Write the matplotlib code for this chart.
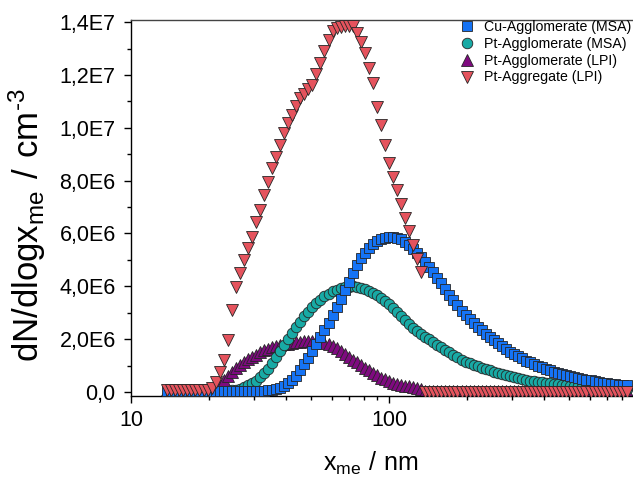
import numpy as np
import matplotlib
matplotlib.use('Agg')
import matplotlib.pyplot as plt
from matplotlib.ticker import FixedLocator, MultipleLocator, LogLocator, NullFormatter

plt.rcParams['font.family'] = ['Liberation Sans', 'DejaVu Sans']
plt.rcParams['mathtext.default'] = 'regular'

# mobility diameter grid (nm), 64 channels per decade
size_nm = [13.82, 14.33, 14.86, 15.40, 15.96, 16.55, 17.15, 17.78, 18.43, 19.11,
           19.81, 20.54, 21.29, 22.07, 22.88, 23.71, 24.58, 25.48, 26.42, 27.38,
           28.39, 29.43, 30.51, 31.62, 32.78, 33.98, 35.23, 36.52, 37.86, 39.24,
           40.68, 42.17, 43.71, 45.32, 46.98, 48.70, 50.48, 52.33, 54.25, 56.23,
           58.29, 60.43, 62.64, 64.94, 67.32, 69.78, 72.34, 74.99, 77.74, 80.58,
           83.54, 86.60, 89.77, 93.06, 96.47, 100.0, 103.7, 107.5, 111.4, 115.5,
           119.7, 124.1, 128.6, 133.4, 138.2, 143.3, 148.6, 154.0, 159.6, 165.5,
           171.5, 177.8, 184.3, 191.1, 198.1, 205.4, 212.9, 220.7, 228.8, 237.1,
           245.8, 254.8, 264.2, 273.8, 283.9, 294.3, 305.1, 316.2, 327.8, 339.8,
           352.3, 365.2, 378.6, 392.4, 406.8, 421.7, 437.1, 453.2, 469.8, 487.0,
           504.8, 523.3, 542.5, 562.3, 582.9, 604.3, 626.4, 649.4, 673.2, 697.8,
           723.4, 749.9, 777.4, 805.8, 835.4]

# dN/dlogx in 1E6 cm^-3
cu_msa = [0.05, 0.05, 0.05, 0.05, 0.05, 0.05, 0.05, 0.05, 0.05, 0.05,
          0.05, 0.05, 0.05, 0.05, 0.05, 0.05, 0.05, 0.05, 0.05, 0.05,
          0.03, 0.03, 0.03, 0.04, 0.05, 0.06, 0.08, 0.11, 0.16, 0.23,
          0.33, 0.46, 0.62, 0.82, 1.05, 1.30, 1.56, 1.82, 2.08, 2.35,
          2.63, 2.92, 3.22, 3.53, 3.85, 4.18, 4.50, 4.80, 5.06, 5.28,
          5.46, 5.60, 5.71, 5.79, 5.84, 5.87, 5.87, 5.84, 5.78, 5.69,
          5.57, 5.43, 5.27, 5.10, 4.92, 4.73, 4.53, 4.32, 4.11, 3.90,
          3.69, 3.48, 3.28, 3.08, 2.90, 2.75, 2.60, 2.46, 2.33, 2.20,
          2.08, 1.96, 1.84, 1.73, 1.62, 1.52, 1.43, 1.35, 1.27, 1.19,
          1.12, 1.05, 0.99, 0.93, 0.87, 0.82, 0.77, 0.72, 0.68, 0.64,
          0.60, 0.56, 0.53, 0.50, 0.47, 0.44, 0.41, 0.38, 0.36, 0.34,
          0.32, 0.30, 0.28, 0.26, 0.25]

# Pt-Agglomerate (MSA) starts at 22.88 nm
pt_msa = [0.02, 0.03, 0.06, 0.09, 0.13, 0.18,
          0.25, 0.33, 0.43, 0.56, 0.71, 0.89, 1.09, 1.31, 1.54, 1.77,
          2.00, 2.23, 2.45, 2.66, 2.86, 3.04, 3.21, 3.36, 3.50, 3.62,
          3.72, 3.81, 3.88, 3.93, 3.97, 3.99, 4.00, 3.98, 3.94, 3.89,
          3.83, 3.76, 3.68, 3.56, 3.44, 3.32, 3.18, 3.03, 2.88, 2.73,
          2.58, 2.44, 2.31, 2.20, 2.10, 1.99, 1.89, 1.79, 1.69, 1.60,
          1.50, 1.41, 1.32, 1.23, 1.15, 1.09, 1.03, 0.97, 0.92, 0.87,
          0.82, 0.77, 0.73, 0.68, 0.64, 0.60, 0.56, 0.52, 0.49, 0.46,
          0.43, 0.41, 0.39, 0.37, 0.35, 0.33, 0.31, 0.29, 0.27, 0.26,
          0.24, 0.22, 0.21, 0.19, 0.18, 0.17, 0.16, 0.15, 0.14, 0.13,
          0.12, 0.12, 0.11, 0.11, 0.10]

pt_lpi = [0.06, 0.06, 0.06, 0.06, 0.06, 0.06, 0.06, 0.06, 0.06, 0.06,
          0.06, 0.06, 0.18, 0.30, 0.45, 0.62, 0.76, 0.90, 1.03, 1.15,
          1.25, 1.34, 1.42, 1.50, 1.58, 1.64, 1.69, 1.73, 1.77, 1.80,
          1.83, 1.85, 1.88, 1.90, 1.92, 1.93, 1.94, 1.93, 1.91, 1.87,
          1.82, 1.74, 1.65, 1.55, 1.45, 1.34, 1.23, 1.12, 1.02, 0.92,
          0.82, 0.72, 0.63, 0.55, 0.48, 0.41, 0.35, 0.30, 0.27, 0.24,
          0.22, 0.19, 0.15, 0.10, 0.05, 0.05, 0.05, 0.05, 0.05, 0.05,
          0.05, 0.05, 0.05, 0.05, 0.05, 0.05, 0.05, 0.05, 0.05, 0.05,
          0.05, 0.05, 0.05, 0.05, 0.05, 0.05, 0.05, 0.05, 0.05, 0.05,
          0.05, 0.05, 0.05, 0.05, 0.05, 0.05, 0.05, 0.05, 0.05, 0.05,
          0.05, 0.05, 0.05, 0.05, 0.05, 0.05, 0.05, 0.05, 0.05, 0.05,
          0.05, 0.05, 0.05, 0.05, 0.05]

pt_agg = [0.08, 0.08, 0.08, 0.08, 0.08, 0.08, 0.08, 0.08, 0.08, 0.08,
          0.08, 0.15, 0.38, 0.76, 1.21, 1.97, 3.10, 3.97, 4.50, 4.99,
          5.44, 5.86, 6.43, 6.88, 7.45, 7.94, 8.47, 8.88, 9.34, 9.79,
          10.17, 10.47, 10.81, 11.12, 11.27, 11.46, 11.61, 12.02, 12.44, 12.89,
          13.31, 13.65, 13.76, 13.80, 13.84, 13.84, 13.84, 13.57, 13.23, 12.82,
          12.25, 11.68, 10.78, 10.09, 9.34, 8.66, 8.13, 7.64, 7.11, 6.58,
          6.09, 5.56, 5.03, 4.54, 0, 0, 0, 0, 0, 0,
          0, 0, 0, 0, 0, 0, 0, 0, 0, 0,
          0, 0, 0, 0, 0, 0, 0, 0, 0, 0,
          0, 0, 0, 0, 0, 0, 0, 0, 0, 0,
          0, 0, 0, 0, 0, 0, 0, 0, 0, 0,
          0, 0, 0, 0, 0]

labels = ['Cu-Agglomerate (MSA)', 'Pt-Agglomerate (MSA)',
          'Pt-Agglomerate (LPI)', 'Pt-Aggregate (LPI)']
y_ticks = [0, 2e6, 4e6, 6e6, 8e6, 1e7, 1.2e7, 1.4e7]
y_tick_labels = ['0,0', '2,0E6', '4,0E6', '6,0E6', '8,0E6', '1,0E7', '1,2E7', '1,4E7']
x_ticks = [10, 100]
x_tick_labels = ['10', '100']

x = np.array(size_nm)
x_msa = x[len(x) - len(pt_msa):]

fig = plt.figure(figsize=(6.33, 4.79), dpi=100)
ax = fig.add_axes([131/633, 1 - 396/479, 502/633, 376/479])

ec = '#262626'
h_lpi, = ax.plot(x, np.array(pt_lpi)*1e6, ls='none', marker='^', ms=8.8,
                 mfc='#7f0a80', mec=ec, mew=0.6, zorder=2)
h_msa, = ax.plot(x_msa, np.array(pt_msa)*1e6, ls='none', marker='o', ms=7.6,
                 mfc='#18aaa5', mec=ec, mew=0.6, zorder=3)
h_cu, = ax.plot(x, np.array(cu_msa)*1e6, ls='none', marker='s', ms=7.2,
                mfc='#1573f5', mec=ec, mew=0.6, zorder=4)
h_agg, = ax.plot(x, np.array(pt_agg)*1e6, ls='none', marker='v', ms=8.8,
                 mfc='#e5535d', mec=ec, mew=0.6, zorder=5)

ax.set_xscale('log')
ax.set_xlim(10, 883)
ax.set_ylim(-1.5e5, 1.408e7)

ax.xaxis.set_major_locator(FixedLocator(x_ticks))
ax.set_xticklabels(x_tick_labels)
ax.xaxis.set_minor_locator(LogLocator(base=10, subs=np.arange(2, 10)))
ax.xaxis.set_minor_formatter(NullFormatter())
ax.yaxis.set_major_locator(FixedLocator(y_ticks))
ax.set_yticklabels(y_tick_labels)
ax.yaxis.set_minor_locator(MultipleLocator(1e6))

ax.tick_params(which='major', direction='out', length=5, width=1, labelsize=15.5, colors='black')
ax.tick_params(axis='y', which='major', pad=6)
ax.tick_params(axis='x', which='major', pad=5)
ax.tick_params(which='minor', direction='out', length=3, width=1)
ax.tick_params(which='both', top=False, right=False)

ax.spines['right'].set_visible(False)
ax.spines['top'].set_color('#444444')
for s in ['left', 'bottom', 'top']:
    ax.spines[s].set_linewidth(1.0)

ax.set_ylabel('$dN/dlogx_{me}\\ /\\ cm^{\u2010 3}$', fontsize=25, va='center')
ax.yaxis.set_label_coords(-0.206, 0.455)
ax.set_xlabel(r'$x_{me}\ /\ nm$', fontsize=18, va='center')
ax.xaxis.set_label_coords(0.478, -0.178)

ax.legend([h_cu, h_msa, h_lpi, h_agg], labels, loc='upper right',
          bbox_to_anchor=(631/633, 1 - 20/479), bbox_transform=fig.transFigure,
          frameon=False, fontsize=10.2, handlelength=1.0, handletextpad=0.7,
          labelspacing=0.2, borderpad=0, borderaxespad=0, numpoints=1)

fig.savefig('out.png', dpi=100, facecolor='white')
